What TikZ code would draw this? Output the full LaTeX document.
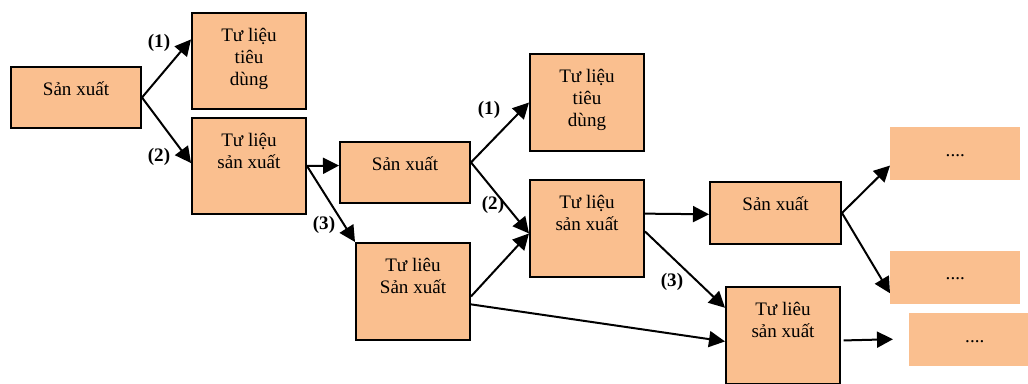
\documentclass[tikz,border=0pt]{standalone}
\usepackage{fontspec}
\setmainfont{Liberation Serif}
\usetikzlibrary{arrows.meta,calc}
\definecolor{peach}{RGB}{250,191,143}
\tikzset{
  box/.style={draw=black, fill=peach, line width=1.5pt, inner sep=0pt, anchor=north west},
  plainbox/.style={fill=peach, draw=none, inner sep=0pt, anchor=north west},
  txt/.style={anchor=north, inner sep=0pt, align=center, font=\fontsize{14.3}{16.5}\selectfont},
  lbl/.style={inner sep=0pt, font=\fontsize{14.3}{16.5}\selectfont\bfseries},
  conn/.style={line width=1.5pt, -{Triangle[length=12pt,width=12pt]}},
  plain/.style={line width=1.5pt}
}
\newcommand{\fst}{\rule{0pt}{15pt}}
\begin{document}
\begin{tikzpicture}[x=0.75pt,y=-0.75pt]
\useasboundingbox (0,0) rectangle (1028,384);
% boxes
\node[box, minimum width=97.5pt, minimum height=45.75pt] (A) at (10,66) {};
\node[box, minimum width=85.5pt, minimum height=72pt] (B) at (191,12) {};
\node[box, minimum width=85.5pt, minimum height=72pt] (C) at (191,117) {};
\node[box, minimum width=97.5pt, minimum height=45.75pt] (D) at (339,141) {};
\node[box, minimum width=85.5pt, minimum height=72.75pt] (E) at (529,53) {};
\node[box, minimum width=85.5pt, minimum height=72.75pt] (F) at (529,179) {};
\node[box, minimum width=85.5pt, minimum height=72.75pt] (G) at (355,242) {};
\node[box, minimum width=98.25pt, minimum height=46.5pt] (H) at (709,181) {};
\node[box, minimum width=85.5pt, minimum height=72.75pt] (I) at (725,286) {};
\node[plainbox, minimum width=97.5pt, minimum height=39.75pt] (J) at (890,127) {};
\node[plainbox, minimum width=97.5pt, minimum height=39.75pt] (K) at (890,251) {};
\node[plainbox, minimum width=89.25pt, minimum height=39.75pt] (L) at (909,313) {};
% texts
\node[txt] (At) at ([yshift=-7pt]A.north) {\fst Sản xuất};
\node[txt] (Bt) at ([yshift=-7pt]B.north) {\fst Tư liệu\\tiêu\\dùng};
\node[txt] (Ct) at ([yshift=-7pt]C.north) {\fst Tư liệu\\sản xuất};
\node[txt] (Dt) at ([yshift=-7pt]D.north) {\fst Sản xuất};
\node[txt] (Et) at ([yshift=-7pt]E.north) {\fst Tư liệu\\tiêu\\dùng};
\node[txt] (Ft) at ([yshift=-7pt]F.north) {\fst Tư liệu\\sản xuất};
\node[txt] (Gt) at ([yshift=-7pt]G.north) {\fst Tư liêu\\Sản xuất};
\node[txt] (Ht) at ([yshift=-7pt]H.north) {\fst Sản xuất};
\node[txt] (It) at ([yshift=-7pt]I.north) {\fst Tư liêu\\sản xuất};
\node[txt] (Jt) at ([yshift=-7pt]J.north) {\fst ....};
\node[txt] (Kt) at ([yshift=-6pt]K.north) {\fst ....};
\node[txt] (Lt) at ([yshift=-7pt,xshift=4.5pt]L.north) {\fst ....};
% connectors
\draw[conn] (A.east) -- ($(B.north west)!0.28!(B.south west)$);
\draw[conn] (A.east) -- ($(C.north west)!0.47!(C.south west)$);
\draw[conn] (C.east) -- ($(D.north west)!0.39!(D.south west)$);
\draw[conn] (C.east) -- (G.north west);
\draw[conn] ($(D.north east)!0.34!(D.south east)$) -- (E.west);
\draw[conn] ($(D.north east)!0.34!(D.south east)$) -- ($(F.north west)!0.55!(F.south west)$);
\draw[conn] ($(G.north east)!0.55!(G.south east)$) -- ($(F.north west)!0.55!(F.south west)$);
\draw[conn] ($(G.north east)!0.63!(G.south east)$) -- ($(I.north west)!0.56!(I.south west)$);
\draw[conn] ($(F.north east)!0.35!(F.south east)$) -- ($(H.north west)!0.52!(H.south west)$);
\draw[conn] ($(F.north east)!0.53!(F.south east)$) -- ($(I.north west)!0.22!(I.south west)$);
\draw[conn] (H.east) -- ($(J.north west)!0.72!(J.south west)$);
\draw[conn] (H.east) -- ($(K.north west)!0.79!(K.south west)$);
\draw[conn] ([xshift=2pt]$(I.north east)!0.55!(I.south east)$) -- ([xshift=-12pt]$(L.north west)!0.49!(L.south west)$);
% labels
\node[lbl] (l1) at (159,43) {(1)};
\node[lbl] (l2) at (159,157) {(2)};
\node[lbl] (l3) at (324,225) {(3)};
\node[lbl] (l4) at (489,110) {(1)};
\node[lbl] (l5) at (493,205) {(2)};
\node[lbl] (l6) at (672,282) {(3)};
\end{tikzpicture}
\end{document}
